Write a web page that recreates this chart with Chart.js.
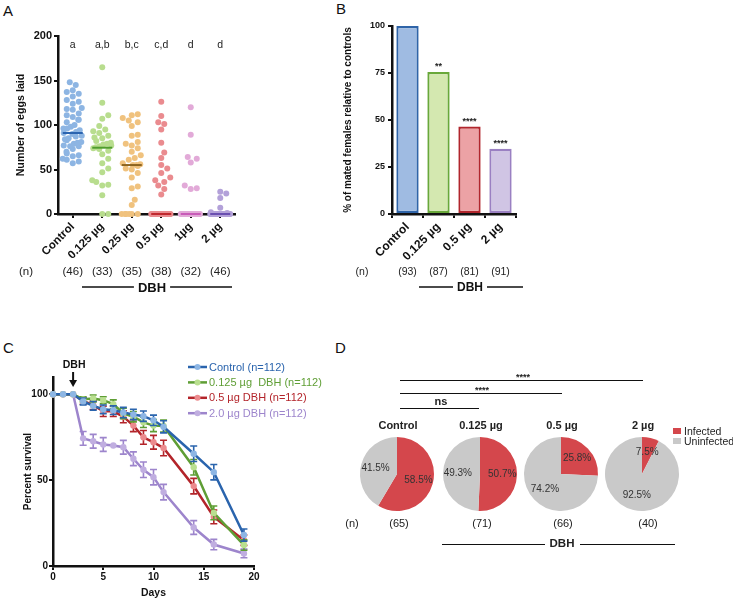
<!DOCTYPE html>
<html lang="en">
<head>
<meta charset="utf-8">
<title>DBH</title>
<script src="https://cdn.jsdelivr.net/npm/chart.js@4.4.1/dist/chart.umd.min.js"></script>
<style>
  body { margin: 0; background: #fff; }
  #figura { position: relative; width: 733px; height: 600px; overflow: hidden; background: #fff;
    font-family: "Liberation Sans", Arial, sans-serif; color: #222; }
  #figura canvas { position: absolute; }
  .c { position: absolute; transform: translate(-50%, -50%); white-space: nowrap; line-height: 1; }
  .e { position: absolute; transform: translateY(-50%); white-space: nowrap; line-height: 1; }
  .letra { position: absolute; font-size: 15px; line-height: 1; color: #111; }
  .linha { position: absolute; height: 0; border-top: 1.5px solid #111; }
  .b { font-weight: bold; }
</style>
</head>
<body>
<div id="figura">
  <div class="letra" style="left:3px;top:3px">A</div>
  <div class="letra" style="left:336px;top:1px">B</div>
  <div class="letra" style="left:3px;top:340px">C</div>
  <div class="letra" style="left:335px;top:340px">D</div>

  <canvas id="graficoA" width="300" height="300" style="left:0;top:0"></canvas>
  <canvas id="graficoB" width="200" height="300" style="left:340px;top:0"></canvas>
  <canvas id="graficoC" width="340" height="260" style="left:0;top:340px"></canvas>
  <canvas id="pizza0" width="90" height="90" style="left:352px;top:429px"></canvas>
  <canvas id="pizza1" width="90" height="90" style="left:435px;top:429px"></canvas>
  <canvas id="pizza2" width="90" height="90" style="left:516px;top:429px"></canvas>
  <canvas id="pizza3" width="90" height="90" style="left:597px;top:429px"></canvas>

  <!-- Painel D: anotações -->
  <div class="linha" style="left:400px;top:380px;width:243px"></div>
  <div class="c b" style="left:523px;top:377px;font-size:9px">****</div>
  <div class="linha" style="left:400px;top:393px;width:162px"></div>
  <div class="c b" style="left:482px;top:390px;font-size:9px">****</div>
  <div class="linha" style="left:400px;top:408px;width:79px"></div>
  <div class="c b" style="left:441px;top:401px;font-size:11px">ns</div>
  <div id="titulosD"></div>
  <div class="c" style="left:352px;top:523px;font-size:11px">(n)</div>
  <div class="linha" style="left:442px;top:544px;width:103px"></div>
  <div class="c b" style="left:562px;top:544px;font-size:11.5px">DBH</div>
  <div class="linha" style="left:580px;top:544px;width:95px"></div>
  <div style="position:absolute;left:673px;top:428px;width:8px;height:6px;background:#d4474c"></div>
  <div class="e" style="left:684px;top:431px;font-size:10.5px">Infected</div>
  <div style="position:absolute;left:673px;top:438px;width:8px;height:6px;background:#c9c9c9"></div>
  <div class="e" style="left:684px;top:441px;font-size:10.5px">Uninfected</div>
</div>

<script>
const fonte = '"Liberation Sans", Arial, sans-serif';
Chart.defaults.font.family = fonte;
Chart.defaults.color = "#111";
Chart.defaults.animation = false;
Chart.defaults.responsive = false;
Chart.defaults.plugins.legend.display = false;
Chart.defaults.plugins.tooltip.enabled = false;

// === Dados painel A (ovos postos) ===
const gruposA = ["Control", "0.125 µg", "0.25 µg", "0.5 µg", "1µg", "2 µg"];
const ovosControl = [148, 145, 139, 137, 135, 132, 128, 126, 124, 119, 118, 117, 113, 111, 109, 106, 106, 103, 100, 98,
  96, 96, 94, 92, 91, 90, 88, 87, 85, 84, 83, 81, 80, 79, 77, 76, 76, 73, 70, 68, 66, 65, 62, 61, 59, 57];
const ovos0125 = [165, 125, 111, 107, 99, 95, 93, 91, 88, 86, 85, 82, 80, 79, 78, 77, 76, 75, 74, 73,
  71, 67, 62, 57, 51, 47, 38, 36, 33, 32, 21, 0, 0];
const ovos025 = [112, 111, 108, 105, 103, 99, 89, 88, 81, 79, 77, 74, 70, 66, 63, 61, 57, 56, 55, 55,
  54, 51, 50, 46, 41, 31, 29, 16, 10, 0, 0, 0, 0, 0, 0];
const ovos05 = [126, 110, 103, 101, 95, 80, 69, 63, 55, 51, 46, 41, 38, 36, 32, 28, 22,
  0, 0, 0, 0, 0, 0, 0, 0, 0, 0, 0, 0, 0, 0, 0, 0, 0, 0, 0, 0, 0];
const ovos1 = [120, 89, 64, 62, 58, 32, 29, 28, 0, 0, 0, 0, 0, 0, 0, 0, 0, 0, 0, 0, 0, 0, 0, 0, 0, 0, 0, 0, 0, 0, 0, 0];
const ovos2 = [25, 23, 18, 7, 2, 1, 0, 0, 0, 0, 0, 0, 0, 0, 0, 0, 0, 0, 0, 0, 0, 0, 0, 0, 0, 0,
  0, 0, 0, 0, 0, 0, 0, 0, 0, 0, 0, 0, 0, 0, 0, 0, 0, 0, 0, 0];
const medianasA = [91, 74.5, 55, 0, 0, 0];
const letrasA = ["a", "a,b", "b,c", "c,d", "d", "d"];
const nA = ["(46)", "(33)", "(35)", "(38)", "(32)", "(46)"];
const coresA = ["#8db5e3", "#b8dd8e", "#f0c27e", "#ea8b8f", "#e2aad8", "#b3a1d9"];
const coresMedianaA = ["#2b64b0", "#4f9d2d", "#8c6420", "#c0282e", "#c85bb8", "#6a4fb0"];

// === Dados painel B (fêmeas acasaladas) ===
const gruposB = ["Control", "0.125 µg", "0.5 µg", "2 µg"];
const acasaladas = [100, 75.5, 46.5, 34.7];
const estrelasB = ["", "**", "****", "****"];
const nB = ["(93)", "(87)", "(81)", "(91)"];
const preenchimentoB = ["#9fbbe2", "#d4e8b0", "#eca2a5", "#d0c5e4"];
const bordaB = ["#2f64a8", "#69a83a", "#b1262d", "#9a80c2"];

// === Dados painel C (sobrevivência) ===
const dias = [0, 1, 2, 3, 4, 5, 6, 7, 8, 9, 10, 11, 14, 16, 19];
const sobrevControl = [100, 100, 100, 95.8, 93.2, 91.2, 90.7, 89.3, 88.2, 87.2, 84.8, 81, 65.3, 54.6, 18];
const sobrev0125 = [100, 100, 100, 97, 97.5, 96.5, 94.2, 88.8, 86.9, 83.6, 81.7, 81.5, 57.5, 30.9, 12.2];
const sobrev05 = [100, 100, 100, 96.1, 93.6, 90, 90, 86.9, 81.7, 74.9, 72, 68.7, 46.5, 28.6, 15];
const sobrev2 = [100, 100, 100, 74.3, 72.6, 70.7, 70.1, 69.1, 62.4, 56, 51.7, 43, 22.4, 12.5, 7.3];
const erroControl = [0, 0, 0, 2, 2.5, 2.5, 2.5, 3, 3, 3, 3, 3.5, 4.5, 4.5, 3.5];
const erro0125 = [0, 0, 0, 1.5, 2, 2, 2.5, 3, 3, 3, 3.5, 3.5, 4.5, 4, 3];
const erro05 = [0, 0, 0, 2, 2.5, 3, 3, 3.5, 3.5, 4, 4, 4.5, 4.5, 4, 3];
const erro2 = [0, 0, 0, 4, 4, 4, 0, 4, 4, 4.5, 4.5, 4.5, 4, 3, 2.5];
const legendaC = ["Control (n=112)", "0.125 µg  DBH (n=112)", "0.5 µg DBH (n=112)", "2.0 µg DBH (n=112)"];
const linhaC = ["#2a64ad", "#5f9e35", "#b3242a", "#9d85cc"];
const pontoC = ["#8db6e4", "#b9df8f", "#ec8b8e", "#c0aee0"];

// === Dados painel D (infecção) ===
const gruposD = ["Control", "0.125 µg", "0.5 µg", "2 µg"];
const infectadas = [58.5, 50.7, 25.8, 7.5];
const naoInfectadas = [41.5, 49.3, 74.2, 92.5];
const nD = ["(65)", "(71)", "(66)", "(40)"];

// === Funções auxiliares ===
function espalhar(valores) {
  // espalha pontos iguais lado a lado (tipo beeswarm)
  const pxY = 178 / 200, pxX = 29.5, diam = 6, maxDx = 10, passo = 3;
  const colocados = [];
  let ciclo = 0;
  return [...valores].sort((a, b) => a - b).map(v => {
    const y = v * pxY;
    let dx = null;
    for (let k = 0; dx === null && k * passo <= maxDx; k++) {
      for (const s of (k === 0 ? [0] : [k * passo, -k * passo])) {
        if (colocados.every(p => Math.hypot(p.x - s, p.y - y) >= diam)) { dx = s; break; }
      }
    }
    if (dx === null) dx = -maxDx + ((ciclo++ * 3.7) % (2 * maxDx));
    colocados.push({ x: dx, y });
    return { dx: dx / pxX, v };
  });
}

function linhaDBH(ctx, x0, x1, y, cx, tamanho) {
  ctx.save();
  ctx.font = `bold ${tamanho}px ${fonte}`;
  const w = ctx.measureText("DBH").width;
  ctx.strokeStyle = "#111";
  ctx.lineWidth = 1.5;
  ctx.beginPath();
  ctx.moveTo(x0, y); ctx.lineTo(cx - w / 2 - 4, y);
  ctx.moveTo(cx + w / 2 + 4, y); ctx.lineTo(x1, y);
  ctx.stroke();
  ctx.fillStyle = "#111";
  ctx.textAlign = "center";
  ctx.textBaseline = "middle";
  ctx.fillText("DBH", cx, y + 1);
  ctx.restore();
}

function eixo(extra) {
  return Object.assign({
    grid: { drawOnChartArea: false, drawTicks: true, tickLength: 4, color: "#111", lineWidth: 2 },
    border: { display: true, color: "#111", width: 2.5 }
  }, extra);
}

// === Painel A ===
const ovosA = [ovosControl, ovos0125, ovos025, ovos05, ovos1, ovos2];
const datasetsA = [];
ovosA.forEach((vals, i) => {
  datasetsA.push({
    type: "scatter",
    data: espalhar(vals).map(p => ({ x: i + p.dx, y: p.v })),
    backgroundColor: coresA[i],
    pointRadius: 3,
    pointBorderWidth: 0,
    clip: false,
    order: 2
  });
  datasetsA.push({
    type: "line",
    data: [{ x: i - 0.34, y: medianasA[i] }, { x: i + 0.34, y: medianasA[i] }],
    borderColor: coresMedianaA[i],
    borderWidth: 2,
    pointRadius: 0,
    clip: false,
    order: 1
  });
});

const anotacoesA = {
  id: "anotacoesA",
  afterDraw(chart) {
    const { ctx, scales: { x } } = chart;
    ctx.save();
    ctx.fillStyle = "#222";
    ctx.textAlign = "center";
    ctx.textBaseline = "middle";
    ctx.font = `10.5px ${fonte}`;
    letrasA.forEach((l, i) => ctx.fillText(l, x.getPixelForValue(i), 45));
    ctx.font = `11.5px ${fonte}`;
    nA.forEach((n, i) => ctx.fillText(n, x.getPixelForValue(i), 272));
    ctx.fillText("(n)", 26, 272);
    ctx.restore();
    linhaDBH(ctx, 82, 232, 287, 152, 13);
  }
};

new Chart(document.getElementById("graficoA"), {
  type: "scatter",
  data: { datasets: datasetsA },
  options: {
    layout: { padding: { left: 0, top: 36, right: 65, bottom: 0 } },
    scales: {
      x: eixo({
        type: "linear", min: -0.5, max: 5.5,
        afterBuildTicks: s => { s.ticks = gruposA.map((_, i) => ({ value: i })); },
        afterFit: s => { s.height = 86; },
        ticks: { callback: v => gruposA[v], minRotation: 45, maxRotation: 45, autoSkip: false,
          font: { size: 11.5, weight: "bold" }, padding: 2 }
      }),
      y: eixo({
        min: 0, max: 200,
        afterFit: s => { s.width = 58; },
        ticks: { stepSize: 50, font: { size: 11, weight: "bold" }, padding: 2 },
        title: { display: true, text: "Number of eggs laid", font: { size: 10.7, weight: "bold" }, padding: { top: 15 } }
      })
    }
  },
  plugins: [anotacoesA]
});

// === Painel B ===
const anotacoesB = {
  id: "anotacoesB",
  afterDraw(chart) {
    const { ctx } = chart;
    const barras = chart.getDatasetMeta(0).data;
    ctx.save();
    ctx.fillStyle = "#222";
    ctx.textAlign = "center";
    ctx.font = `bold 9px ${fonte}`;
    ctx.textBaseline = "alphabetic";
    barras.forEach((b, i) => ctx.fillText(estrelasB[i], b.x, b.y - 3));
    ctx.textBaseline = "middle";
    ctx.font = `10.5px ${fonte}`;
    barras.forEach((b, i) => ctx.fillText(nB[i], b.x, 272));
    ctx.fillText("(n)", 22, 272);
    ctx.restore();
    linhaDBH(ctx, 79, 183, 287, 130, 12);
  }
};

new Chart(document.getElementById("graficoB"), {
  type: "bar",
  data: {
    labels: gruposB,
    datasets: [{
      data: acasaladas,
      backgroundColor: preenchimentoB,
      borderColor: bordaB,
      borderWidth: 2.2,
      borderSkipped: false,
      barPercentage: 0.72,
      categoryPercentage: 1
    }]
  },
  options: {
    layout: { padding: { left: 0, top: 26, right: 24, bottom: 0 } },
    scales: {
      x: eixo({
        afterFit: s => { s.height = 86; },
        ticks: { minRotation: 45, maxRotation: 45, autoSkip: false, font: { size: 12, weight: "bold" }, padding: 2 }
      }),
      y: eixo({
        min: 0, max: 100,
        afterFit: s => { s.width = 52; },
        ticks: { stepSize: 25, font: { size: 9, weight: "bold" }, padding: 3 },
        title: { display: true, text: "% of mated females relative to controls", font: { size: 10, weight: "bold" }, padding: { top: 2 } }
      })
    }
  },
  plugins: [anotacoesB]
});

// === Painel C ===
const seriesC = [sobrevControl, sobrev0125, sobrev05, sobrev2];
const errosC = [erroControl, erro0125, erro05, erro2];

const barrasErro = {
  id: "barrasErro",
  beforeDatasetDraw(chart, args) {
    const { ctx, scales: { x, y } } = chart;
    const i = args.index;
    ctx.save();
    ctx.strokeStyle = linhaC[i];
    ctx.lineWidth = 1.6;
    dias.forEach((d, j) => {
      const e = errosC[i][j];
      if (!e) return;
      const px = x.getPixelForValue(d);
      const y0 = y.getPixelForValue(seriesC[i][j] - e);
      const y1 = y.getPixelForValue(seriesC[i][j] + e);
      ctx.beginPath();
      ctx.moveTo(px, y0); ctx.lineTo(px, y1);
      ctx.moveTo(px - 3.5, y0); ctx.lineTo(px + 3.5, y0);
      ctx.moveTo(px - 3.5, y1); ctx.lineTo(px + 3.5, y1);
      ctx.stroke();
    });
    ctx.restore();
  }
};

const anotacoesC = {
  id: "anotacoesC",
  afterDraw(chart) {
    const { ctx, scales: { x } } = chart;
    ctx.save();
    // seta DBH
    const px = x.getPixelForValue(2);
    ctx.fillStyle = "#111";
    ctx.strokeStyle = "#111";
    ctx.font = `bold 10.5px ${fonte}`;
    ctx.textAlign = "center";
    ctx.textBaseline = "middle";
    ctx.fillText("DBH", px + 1, 25);
    ctx.lineWidth = 2;
    ctx.beginPath(); ctx.moveTo(px, 32); ctx.lineTo(px, 41); ctx.stroke();
    ctx.beginPath(); ctx.moveTo(px - 4, 40); ctx.lineTo(px + 4, 40); ctx.lineTo(px, 47); ctx.closePath(); ctx.fill();
    // legenda
    ctx.textAlign = "left";
    ctx.font = `11px ${fonte}`;
    legendaC.forEach((t, i) => {
      const ly = 27 + i * 15.4;
      ctx.strokeStyle = linhaC[i];
      ctx.lineWidth = 2.5;
      ctx.beginPath(); ctx.moveTo(188, ly); ctx.lineTo(207, ly); ctx.stroke();
      ctx.fillStyle = pontoC[i];
      ctx.beginPath(); ctx.arc(197.5, ly, 3, 0, Math.PI * 2); ctx.fill();
      ctx.fillStyle = linhaC[i];
      ctx.fillText(t, 209, ly + 0.5);
    });
    ctx.restore();
  }
};

new Chart(document.getElementById("graficoC"), {
  type: "line",
  data: {
    datasets: seriesC.map((vals, i) => ({
      data: dias.map((d, j) => ({ x: d, y: vals[j] })),
      borderColor: linhaC[i],
      borderWidth: 2.5,
      pointRadius: 3.2,
      pointBackgroundColor: pontoC[i],
      pointBorderWidth: 0,
      clip: false
    }))
  },
  options: {
    layout: { padding: { left: 0, top: 37, right: 86, bottom: 0 } },
    scales: {
      x: eixo({
        type: "linear", min: 0, max: 20,
        afterFit: s => { s.height = 34; },
        ticks: { stepSize: 5, font: { size: 10, weight: "bold" }, padding: 1 },
        title: { display: true, text: "Days", font: { size: 10.4, weight: "bold" }, padding: { top: 0, bottom: 1 } }
      }),
      y: eixo({
        min: 0, max: 110,
        afterBuildTicks: s => { s.ticks = [0, 50, 100].map(v => ({ value: v })); },
        afterFit: s => { s.width = 53; },
        ticks: { font: { size: 10, weight: "bold" }, padding: 1 },
        title: { display: true, text: "Percent survival", font: { size: 10, weight: "bold" }, padding: { top: 22 } }
      })
    }
  },
  plugins: [barrasErro, anotacoesC]
});

// === Painel D ===
const rotulosPizza = {
  id: "rotulosPizza",
  afterDatasetsDraw(chart) {
    const { ctx } = chart;
    const vals = chart.data.datasets[0].data;
    ctx.save();
    ctx.fillStyle = "#333";
    ctx.font = `10px ${fonte}`;
    ctx.textAlign = "center";
    ctx.textBaseline = "middle";
    chart.getDatasetMeta(0).data.forEach((arco, i) => {
      const { startAngle, endAngle, x, y, outerRadius } = arco.getProps(["startAngle", "endAngle", "x", "y", "outerRadius"]);
      const meio = (startAngle + endAngle) / 2;
      const r = outerRadius * 0.6;
      ctx.fillText(vals[i].toFixed(1) + "%", x + Math.cos(meio) * r, y + Math.sin(meio) * r);
    });
    ctx.restore();
  }
};

const centrosD = [397, 480, 561, 642];
const titulosD = document.getElementById("titulosD");
gruposD.forEach((g, i) => {
  new Chart(document.getElementById("pizza" + i), {
    type: "pie",
    data: {
      labels: ["Infected", "Uninfected"],
      datasets: [{ data: [infectadas[i], naoInfectadas[i]], backgroundColor: ["#d4474c", "#c9c9c9"], borderWidth: 0 }]
    },
    options: { radius: 37 },
    plugins: [rotulosPizza]
  });
  const t = document.createElement("div");
  t.className = "c b";
  t.style.cssText = `left:${centrosD[i] + 1}px;top:425px;font-size:11px`;
  t.textContent = g;
  titulosD.appendChild(t);
  const n = document.createElement("div");
  n.className = "c";
  n.style.cssText = `left:${centrosD[i] + (i === 3 ? 6 : 2)}px;top:523px;font-size:11px`;
  n.textContent = nD[i];
  titulosD.appendChild(n);
});
</script>
</body>
</html>
